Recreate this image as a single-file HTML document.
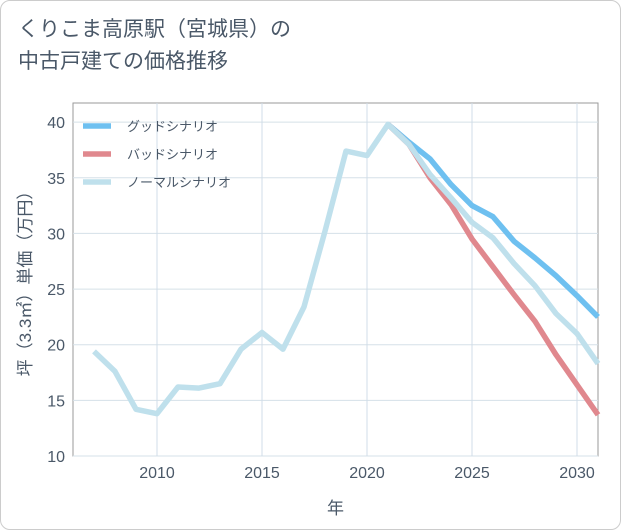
<!DOCTYPE html>
<html><head><meta charset="utf-8"><style>
body{margin:0;background:#fff;font-family:"Liberation Sans","Noto Sans CJK JP",sans-serif;}
#card{position:absolute;left:0;top:0;width:619px;height:528px;border:1px solid #ccc;border-radius:10px;background:#fff;}
#title{position:absolute;left:18px;top:14px;font-size:21px;line-height:32px;color:#4a5868;}
svg{position:absolute;left:0;top:0;}
</style></head><body>
<div id="card"></div>
<div id="title">くりこま高原駅（宮城県）の<br>中古戸建ての価格推移</div>
<svg id="chart" width="621" height="530"></svg>
<script>
const years=[2007,2008,2009,2010,2011,2012,2013,2014,2015,2016,2017,2018,2019,2020,2021,2022,2023,2024,2025,2026,2027,2028,2029,2030,2031];
const normalVals=[19.4,17.6,14.2,13.8,16.2,16.1,16.5,19.6,21.1,19.6,23.4,30.2,37.4,37.0,39.8,38.0,35.3,33.2,31.0,29.6,27.3,25.3,22.8,21.0,18.3];
const futureYears=[2021,2022,2023,2024,2025,2026,2027,2028,2029,2030,2031];
const goodVals=[39.8,38.2,36.7,34.4,32.5,31.5,29.3,27.8,26.2,24.4,22.5];
const badVals=[39.8,38.0,35.0,32.6,29.5,27.0,24.5,22.1,19.1,16.4,13.7];
const xTicks=[2010,2015,2020,2025,2030];
const yTicks=[10,15,20,25,30,35,40];
const L=73,R=598,T=103,B=456,X0=2006,X1=2031,Y0=10,Y1=41.72;
const sx=v=>L+(v-X0)/(X1-X0)*(R-L);
const sy=v=>B-(v-Y0)/(Y1-Y0)*(B-T);
const TXT='#4a5868';
const svg=document.getElementById('chart');const NS='http://www.w3.org/2000/svg';
function mk(t,a,p){const e=document.createElementNS(NS,t);for(const k in a)e.setAttribute(k,a[k]);(p||svg).appendChild(e);return e;}
let g=mk('rect',{x:L,y:T,width:R-L,height:B-T,fill:'#fff',stroke:'#999'});


yTicks.forEach(v=>{const l=mk('line',{x1:L,x2:R,y1:sy(v),y2:sy(v),stroke:'#d5e0e8'});


const t=mk('text',{x:L-8,y:sy(v)+6,'text-anchor':'end','font-size':16,fill:TXT});t.textContent=v;

});
xTicks.forEach(v=>{const l=mk('line',{x1:sx(v),x2:sx(v),y1:T,y2:B,stroke:'#d0dde8'});


const t=mk('text',{x:sx(v),y:B+22,'text-anchor':'middle','font-size':16,fill:TXT});t.textContent=v;

});
function line(xs,ys,c,name){const p=mk('polyline',{points:xs.map((x,i)=>sx(x)+','+sy(ys[i])).join(' '),fill:'none',stroke:c,'stroke-width':5.5,'stroke-linejoin':'round'});

}
line(futureYears,goodVals,'#6ec0f0','good-scenario-line');
line(futureYears,badVals,'#e0888e','bad-scenario-line');
line(years,normalVals,'#bfe0ec','normal-scenario-line');
const legNames=['グッドシナリオ','バッドシナリオ','ノーマルシナリオ'];const legCols=['#6ec0f0','#e0888e','#bfe0ec'];
legNames.forEach((n,i)=>{const y=126+i*28;const l=mk('line',{x1:83,x2:111,y1:y,y2:y,stroke:legCols[i],'stroke-width':5.5});


const t=mk('text',{x:127,y:y+5,'font-size':13,fill:TXT});t.textContent=n;

});
const xt=mk('text',{x:(L+R)/2,y:514,'text-anchor':'middle','font-size':17,fill:TXT});xt.textContent='年';


const yt=mk('text',{x:0,y:0,transform:'translate(31,'+((T+B)/2)+') rotate(-90)','text-anchor':'middle','font-size':17,fill:TXT});yt.textContent='坪（3.3㎡）単価（万円）';


</script>
</body></html>
